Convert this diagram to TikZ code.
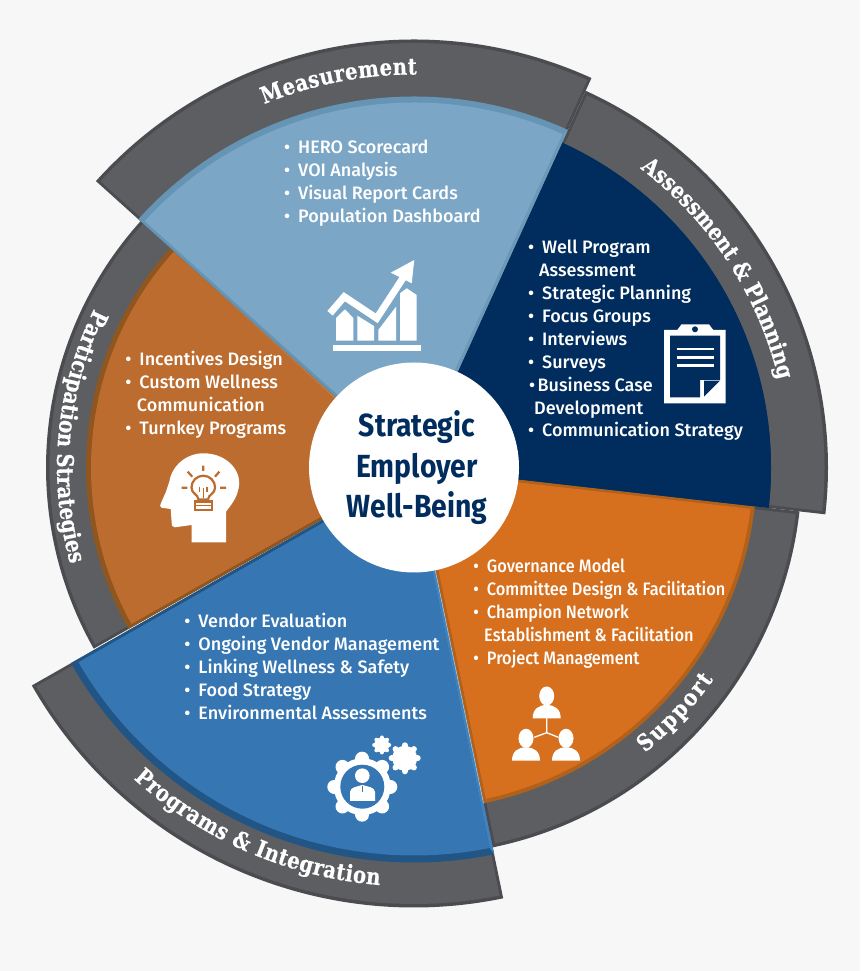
\documentclass[tikz,border=0pt]{standalone}
\usepackage{fontspec}
\usepackage{xcolor}
\usetikzlibrary{decorations.text}

\newfontfamily\itemfont{Fira Sans Medium}
\newfontfamily\tightfont[FakeStretch=0.91]{Fira Sans Medium}
\newfontfamily\hubfont[FakeStretch=0.885]{Fira Sans Bold}
\newfontfamily\bandfont[FakeStretch=0.85,FakeBold=0.6]{DejaVu Serif Bold}

\definecolor{paper}{HTML}{F7F7F7}
\definecolor{bandgray}{HTML}{5C5E62}
\definecolor{bandrim}{HTML}{4A4C50}
\definecolor{skyblue}{HTML}{7BA6C6}
\definecolor{skyrim}{HTML}{6694B5}
\definecolor{skyedge}{HTML}{6C99B8}
\definecolor{navy}{HTML}{002D5E}
\definecolor{amber}{HTML}{D6701E}
\definecolor{amberrim}{HTML}{B2611A}
\definecolor{rust}{HTML}{BB6C2E}
\definecolor{rustrim}{HTML}{8F5620}
\definecolor{rustedge}{HTML}{C27A3E}
\definecolor{midblue}{HTML}{3676B2}
\definecolor{midrim}{HTML}{215585}
\definecolor{midedge}{HTML}{3F82BE}

\newcommand{\itm}[1][8pt]{\llap{\textbullet\hspace{#1}}}

% pie slice with a rim all round it
\newcommand{\petal}[6]{
  \pgfmathsetmacro{\mid}{(#1+#2)/2}
  \pgfmathsetmacro{\gapd}{min(#4,3)/sin((#2-#1)/2)}
  \pgfmathsetmacro{\da}{min(#4,3)/#3*57.3}
  \fill[#6] (0,0) -- (#1:#3) arc[start angle=#1,end angle=#2,radius=#3] -- cycle;
  \fill[#5] (\mid:\gapd) -- (#1+\da:#3-#4)
    arc[start angle=#1+\da,end angle=#2-\da,radius=#3-#4] -- cycle;
}

\tikzset{
  px/.style={shift={(0,971)},yscale=-1},
  listitem/.style={anchor=base west,inner sep=0pt,yshift=-1pt,text=white,font=\itemfont\fontsize{18}{22}\selectfont},
  tightitem/.style={listitem,font=\tightfont\fontsize{18}{22}\selectfont},
  hubline/.style={anchor=base,inner sep=0pt,text=navy,font=\hubfont\fontsize{32}{36}\selectfont},
  bandlabel/.style={decorate,decoration={text along path,text align={fit to path},text={|\bandfont\fontsize{23}{26}\selectfont\color{white}|#1}}}
}

\begin{document}
\begin{tikzpicture}[x=1pt,y=1pt]
  \fill[paper] (0,0) rectangle (860,971);
  \useasboundingbox (0,0) rectangle (860,971);

  \begin{scope}[shift={(414,503.5)}]
    \foreach \s/\e/\Rb/\Rs/\wr/\cs/\cr/\sa/\sd/\sc in {
      -78.3/-6.5/388/343/4/amber/amberrim/-78.3/1/amberrim,
      137.5/209.5/368/328/5/rust/rustrim/137.5/1/rustedge,
      -6.5/65.5/414/357/0.1/navy/navy/65.5/-1/navy,
      209.7/281.7/440/395/7/midblue/midrim/281.7/-1/midedge,
      65.5/138/428/371/6/skyblue/skyrim/65.5/1/skyedge} {
      \petal{\s}{\e}{\Rb}{3.5}{bandgray}{bandrim}
      \petal{\s}{\e}{\Rs}{\wr}{\cs}{\cr}
      \fill[\sc] (0,0) -- (\sa:\Rs) -- (\sa+\sd*\da:\Rs-\wr) -- (\mid:\gapd) -- cycle;
    }
    \draw[white!70!midblue,line width=0.5pt] (281.7:105) -- (281.7:343);

    % labels on the ring
    \path[bandlabel={Measurement}] (112.4:393) arc[start angle=112.4,end angle=89.6,radius=393];
    \path[bandlabel={Assessment {\&} Planning}] (52.9:375) arc[start angle=52.9,end angle=14.4,radius=375];
    \path[bandlabel={Support}] (-51:367) arc[start angle=-51,end angle=-35.3,radius=367];
    \path[bandlabel={Programs {\&} Integration}] (228:419) arc[start angle=228,end angle=265.3,radius=419];
    \path[bandlabel={Participation Strategies}] (153.6:357) arc[start angle=153.6,end angle=195.4,radius=357];
  \end{scope}

  \begin{scope}[px]
    \node[circle,fill=white,minimum size=210pt,inner sep=0pt] (hub) at (414,467.5) {};
    \foreach \y/\txt [count=\i] in {437/Strategic,477.7/Employer,518/Well-Being} {
      \node[hubline] (hub\i) at (417,\y) {\txt};
    }

    % measurement
    \foreach \y/\txt [count=\i] in {153/HERO Scorecard,176/VOI Analysis,199/Visual Report Cards,222/Population Dashboard} {
      \node[listitem] (meas\i) at (298,\y) {\itm\txt};
    }
    % assessment
    \foreach \x/\y/\txt [count=\i] in {
      542/253/\itm Well Program,539/276/Assessment,542/299/\itm Strategic Planning,
      542/322/\itm Focus Groups,542/345/\itm Interviews,542/367.7/\itm Surveys,
      537.5/390.6/\itm[2.5pt]Business Case,534/413.5/Development,542/436/\itm Communication Strategy} {
      \node[listitem] (assess\i) at (\x,\y) {\txt};
    }
    % support
    \foreach \x/\y/\txt [count=\i] in {
      486.7/571.7/\itm Governance Model,486.7/594.7/\itm Committee Design \& Facilitation,
      486.7/617.6/\itm Champion Network,484/640.5/Establishment \& Facilitation,
      486.7/663.4/\itm Project Management} {
      \node[tightitem] (supp\i) at (\x,\y) {\txt};
    }
    % programs
    \foreach \y/\txt [count=\i] in {627/Vendor Evaluation,650/Ongoing Vendor Management,673/Linking Wellness \& Safety,696/Food Strategy,719/Environmental Assessments} {
      \node[listitem] (prog\i) at (198.3,\y) {\itm\txt};
    }
    % participation
    \foreach \x/\y/\txt [count=\i] in {
      139.3/365/\itm Incentives Design,139.3/388/\itm Custom Wellness,
      136.7/411/Communication,139.3/434/\itm Turnkey Programs} {
      \node[listitem] (part\i) at (\x,\y) {\txt};
    }

    % chart icon
    \fill[white] (332.7,345) rectangle (420.7,351);
    \fill[white] (336,340.7) -- (336,318) -- (345,309.3) -- (353.3,318) -- (353.3,340.7) -- cycle;
    \fill[white] (357.3,340.7) -- (357.3,315.7) -- (374,326) -- (374,340.7) -- cycle;
    \fill[white] (378.3,340.7) -- (378.3,330) -- (396,306.7) -- (396,340.7) -- cycle;
    \fill[white] (400,340.7) -- (400,293.3) -- (406.7,288.3) -- (416.7,295) -- (416.7,340.7) -- cycle;
    \draw[skyblue,line width=10pt,miter limit=10] (344.3,296.7) -- (376.7,318.3) -- (403,278);
    \draw[white,line width=7pt,miter limit=10] (330,313.3) -- (344.3,296.7) -- (376.7,318.3) -- (403,278);
    \fill[white] (414.3,260) -- (390.7,272.7) -- (411.7,283.3) -- cycle;

    % clipboard icon
    \fill[white] (664,330) -- (677.3,330) -- (681.5,324.3) -- (709,324.3) -- (713.3,330) -- (725.7,330) -- (725.7,403.3) -- (664,403.3) -- cycle;
    \fill[navy] (695,329.3) circle (3);
    \fill[navy] (670,335.7) -- (720,335.7) -- (720,380) -- (700,380) -- (700,397.3) -- (670,397.3) -- cycle;
    \fill[navy] (704,380.7) -- (720,380.7) -- (704,396.7) -- cycle;
    \foreach \y in {349,357.3,365.7} {
      \draw[white,line width=2.7pt] (676.7,\y) -- (714,\y);
    }

    % people icon
    \draw[white,line width=1.3pt] (546.7,718) -- (546.7,732.7) (534.3,737.3) -- (546.7,732.7) -- (558.3,737.3);
    \foreach \x/\y in {546.7/696,526/738.3,566/738.3} {
      \fill[white] (\x,\y) ellipse (7.5 and 9.5);
      \fill[white] (\x-14,\y+22.3) .. controls (\x-14,\y+13) and (\x-8,\y+9) .. (\x,\y+9)
        .. controls (\x+8,\y+9) and (\x+14,\y+13) .. (\x+14,\y+22.3) -- cycle;
    }

    % gears icon
    \foreach \x/\y/\Ro/\Rt/\wt in {362.3/786.7/28.5/29/14,381.7/745/7.5/8.5/4,404.7/758.3/12.5/14/6} {
      \fill[white] (\x,\y) circle (\Ro);
      \foreach \a in {0,45,...,315} {
        \draw[white,line width=\wt pt,line cap=round] (\x,\y) ++(\a:\Ro-1) -- ++(\a:\Rt-\Ro);
      }
    }
    \fill[midblue] (362.3,786.7) circle (22);
    \fill[white] (362.3,775.7) circle (7.3);
    \fill[white] (350,801) -- (350,792) .. controls (350,787) and (358,786.5) .. (362.3,785)
      .. controls (367,786.5) and (375,787) .. (375,792) -- (375,801) -- cycle;
    \draw[midblue,line width=0.9pt] (362.3,786) -- (362.3,792);

    % head icon
    \fill[white] (191.7,542.3) -- (191.7,525) -- (175,527.3) .. controls (172,527.5) and (171.5,525) .. (171.7,523)
      -- (170.7,509) -- (161.5,507.7) .. controls (159.5,507) and (160,505) .. (161,503)
      -- (166,491.7) -- (169.3,481.7) .. controls (172,465) and (187,453.3) .. (203.3,453.3)
      .. controls (225,453.3) and (239.3,468) .. (239.3,483.3)
      .. controls (238.3,498) and (230,506) .. (226,511.7) -- (226,542.3) -- cycle;
    \begin{scope}[line width=2.2pt]
      \draw[rust] (198.5,499.5) .. controls (198,494) and (191.5,494) .. (191.5,487.5)
        arc[start angle=180,end angle=360,radius=11.8]
        .. controls (215.1,494) and (208.5,494) .. (208,499.5) -- cycle;
      \draw[rust] (195,501.5) rectangle (212,510);
      \draw[rust,line width=1.4pt] (195,505.7) -- (212,505.7);
      \draw[rust,line width=1.4pt] (203.3,498) -- (203.3,488)
        (199.5,492) -- (199.5,487) (207,492) -- (207,487);
      \draw[rust] (203.3,465.7) -- (203.3,471) (187.7,471.7) -- (192.3,476.7) (219.3,471.7) -- (215,476.7)
        (181.7,487.7) -- (187.3,487.7) (220,487.7) -- (226,487.7);
    \end{scope}
  \end{scope}
\end{tikzpicture}
\end{document}
